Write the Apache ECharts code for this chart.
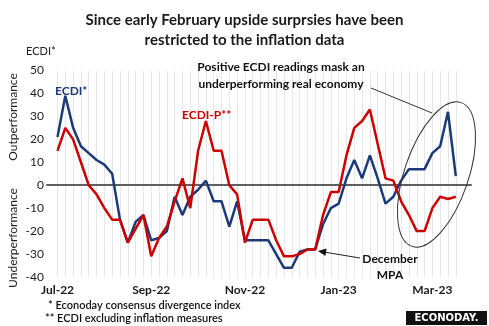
<!DOCTYPE html>
<html>
<head>
<meta charset="utf-8">
<script src="https://cdn.jsdelivr.net/npm/echarts@6/dist/echarts.min.js"></script>
<style>
  html, body { margin: 0; padding: 0; background: #fff; }
  #chart { width: 489px; height: 326px; }
</style>
</head>
<body>
<div id="chart"></div>
<script>
// Month labels shown every 12th release point
const tickLabels = ['Jul-22', 'Sep-22', 'Nov-22', 'Jan-23', 'Mar-23'];

// Econoday consensus divergence index (ECDI)
const ecdi = [
  21, 39, 25, 17, 14, 11, 9, 5, -15, -25,
  -16, -13, -24, -23, -20, -5, -13, -5, -2, 2,
  -7, -7, -18, -7, -24, -24, -24, -24, -30, -36,
  -36, -29, -28, -28, -17, -10, -8, 3, 11, 3,
  13, 3, -8, -5, 2, 7, 7, 7, 14, 17,
  32, 4
];

// ECDI excluding inflation measures (ECDI-P)
const ecdiP = [
  15, 25, 20, 10, 0, -4, -10, -15, -15, -25,
  -19, -13, -31, -23, -18, -7, 3, -10, 15, 28,
  15, 15, 0, -4, -25, -15, -15, -15, -24, -31,
  -31, -30, -28, -28, -13, -3, -3, 13, 25, 28,
  33, 18, 3, 2, -7, -13, -20, -20, -10, -5,
  -6, -5
];

const categories = ecdi.map((_, i) => String(i));

const FONT = 'Lato';
const NAVY = '#1c3a78';
const RED = '#cc0000';

const chart = echarts.init(document.getElementById('chart'), null, { renderer: 'canvas' });

const plotTop = 70.5;
const plotBottom = 49;

chart.setOption({
  animation: false,
  backgroundColor: '#ffffff',
  textStyle: { fontFamily: FONT },
  title: {
    text: 'Since early February upside surprsies have been\nrestricted to the inflation data',
    left: 'center',
    top: 5,
    textStyle: { fontFamily: FONT, fontSize: 15, fontWeight: 'bold', color: '#1a1a1a', lineHeight: 20 }
  },
  grid: [
    { left: 57.5, right: 33.2, top: plotTop, bottom: plotBottom },
    { left: 47, right: 18, top: plotTop, bottom: plotBottom }
  ],
  xAxis: [
    {
      gridIndex: 0, type: 'category', data: categories, boundaryGap: false,
      axisLine: { show: false }, axisTick: { show: false },
      splitLine: { show: true, interval: 0, lineStyle: { color: '#e6e6e6', width: 1 } },
      axisLabel: {
        interval: 11, margin: 7, fontFamily: FONT, fontSize: 12, fontWeight: 'bold', color: '#1a1a1a',
        formatter: (v, i) => tickLabels[i / 12] || ''
      }
    },
    {
      gridIndex: 1, type: 'value', min: 0, max: 1,
      axisLine: { show: true, onZero: true, lineStyle: { color: '#5f5f5f', width: 2 } },
      axisTick: { show: false }, axisLabel: { show: false }, splitLine: { show: false }
    }
  ],
  yAxis: [
    {
      gridIndex: 0, type: 'value', min: -40, max: 50, interval: 10,
      axisLine: { show: false }, axisTick: { show: false }, axisLabel: { show: false }, splitLine: { show: false }
    },
    {
      gridIndex: 1, type: 'value', min: -40, max: 50, interval: 10,
      axisLine: { show: false }, axisTick: { show: false }, splitLine: { show: false },
      axisLabel: { margin: 3, fontFamily: FONT, fontSize: 12, color: '#222' }
    }
  ],
  series: [
    {
      name: 'ECDI*', type: 'line', xAxisIndex: 0, yAxisIndex: 0, data: ecdi,
      symbol: 'none', lineStyle: { color: NAVY, width: 2.5 }, z: 3
    },
    {
      name: 'ECDI-P**', type: 'line', xAxisIndex: 0, yAxisIndex: 0, data: ecdiP,
      symbol: 'none', lineStyle: { color: RED, width: 2.5 }, z: 4
    }
  ],
  graphic: [
    // axis title and side captions
    { type: 'text', z: 100, left: 26, top: 46, style: { text: 'ECDI*', font: `11px ${FONT}`, fill: '#222' } },
    {
      type: 'text', z: 100, x: 13, y: 117, rotation: Math.PI / 2,
      style: { text: 'Outperformance', font: `12px ${FONT}`, fill: '#222', align: 'center', verticalAlign: 'middle' }
    },
    {
      type: 'text', z: 100, x: 13, y: 238, rotation: Math.PI / 2,
      style: { text: 'Underperformance', font: `12px ${FONT}`, fill: '#222', align: 'center', verticalAlign: 'middle' }
    },
    // series labels
    { type: 'text', z: 100, x: 55, y: 91, style: { text: 'ECDI*', font: `bold 12px ${FONT}`, fill: NAVY, verticalAlign: 'middle' } },
    { type: 'text', z: 100, x: 182, y: 115, style: { text: 'ECDI-P**', font: `bold 12px ${FONT}`, fill: RED, verticalAlign: 'middle' } },
    // callout on recent readings
    {
      type: 'text', x: 281, y: 76, z: 100,
      style: {
        text: 'Positive ECDI readings mask an\nunderperforming real economy',
        font: `bold 12px ${FONT}`, fill: '#111', align: 'center', verticalAlign: 'middle', lineHeight: 17
      }
    },
    { type: 'line', shape: { x1: 371, y1: 88, x2: 432, y2: 113 }, style: { stroke: '#333', lineWidth: 1 }, z: 100 },
    {
      type: 'ellipse', x: 436.5, y: 174.5, rotation: -0.33,
      shape: { cx: 0, cy: 0, rx: 32, ry: 76 },
      style: { fill: 'none', stroke: '#333', lineWidth: 1 }, z: 100
    },
    // December MPA pointer
    {
      type: 'text', x: 390, y: 267, z: 100,
      style: { text: 'December\nMPA', font: `bold 12px ${FONT}`, fill: '#111', align: 'center', verticalAlign: 'middle', lineHeight: 16 }
    },
    { type: 'line', shape: { x1: 360, y1: 258, x2: 325, y2: 252.2 }, style: { stroke: '#222', lineWidth: 1 }, z: 100 },
    {
      type: 'polygon', shape: { points: [[318, 251], [326.6, 248.6], [325.4, 256]] },
      style: { fill: '#111' }, z: 100
    },
    // footnotes
    { type: 'text', z: 100, x: 48, y: 305.5, style: { text: '* Econoday consensus divergence index', font: `600 11px ${FONT}`, fill: '#111', verticalAlign: 'middle' } },
    { type: 'text', z: 100, x: 45, y: 318.5, style: { text: '** ECDI excluding inflation measures', font: `600 11px ${FONT}`, fill: '#111', verticalAlign: 'middle' } },
    // logo badge
    { type: 'rect', z: 100, shape: { x: 406, y: 311, width: 81, height: 14 }, style: { fill: '#111' } },
    {
      type: 'text', z: 101, x: 446.5, y: 318.5,
      style: { text: 'ECONODAY.', font: `bold 10px "DejaVu Sans"`, fill: '#fff', align: 'center', verticalAlign: 'middle' }
    }
  ]
});
</script>
</body>
</html>
